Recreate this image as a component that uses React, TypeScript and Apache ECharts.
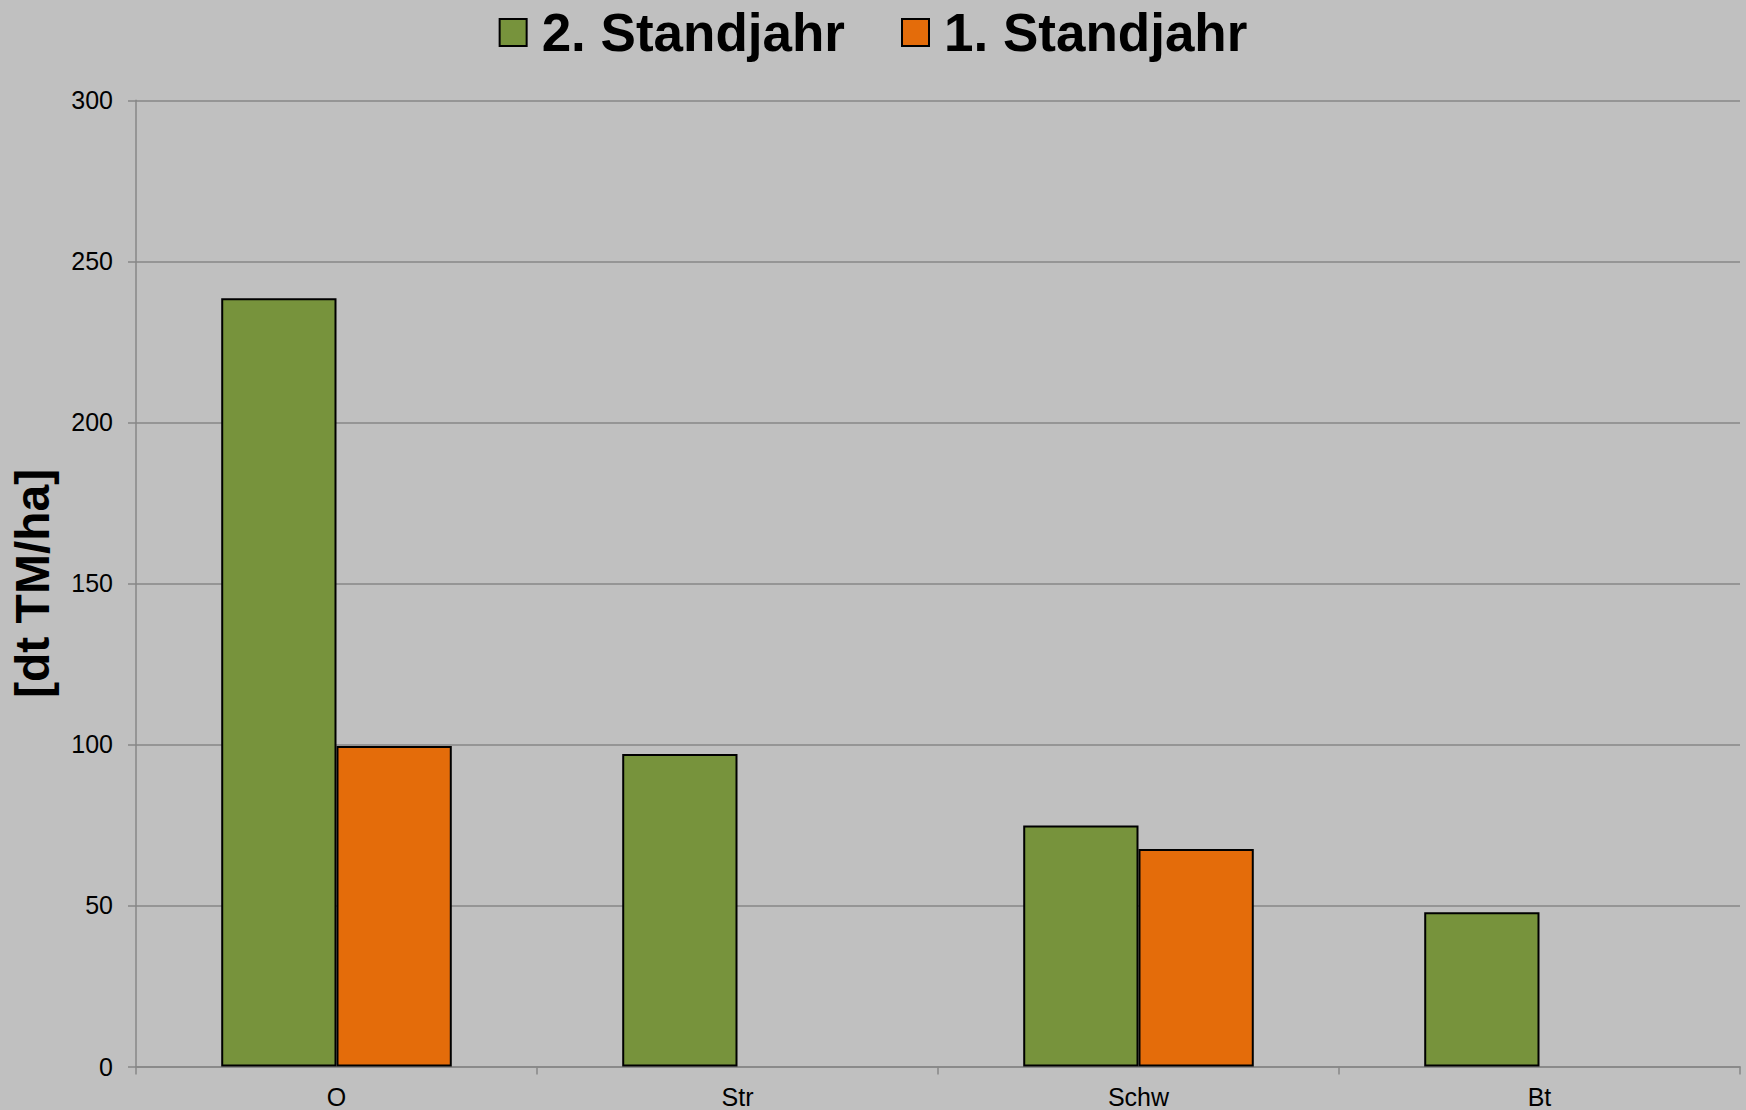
import React, { useEffect, useRef } from "react";
import * as echarts from "echarts";

const categories = ["O", "Str", "Schw", "Bt"];
const seriesNames = ["2. Standjahr", "1. Standjahr"];
const year2Values: (number | null)[] = [238.5, 97.0, 74.8, 47.9];
const year1Values: (number | null)[] = [99.5, null, 67.5, null];
const yTicks = { min: 0, max: 300, interval: 50 };
const axisTitle = "[dt TM/ha]";

const FONT = '"Liberation Sans", Arial, sans-serif';
const GREEN = "#77933C";
const ORANGE = "#E46C0A";
const GRID = "#878787";

export default function App() {
  const ref = useRef<HTMLDivElement>(null);
  useEffect(() => {
    document.body.style.margin = "0";
    const chart = echarts.init(ref.current!, null, { renderer: "svg" });
    chart.setOption({
      animation: false,
      backgroundColor: "#C0C0C0",
      textStyle: { fontFamily: FONT },
      legend: {
        data: seriesNames,
        left: "center",
        top: 6,
        padding: 0,
        itemWidth: 27,
        itemHeight: 27,
        itemGap: 56,
        icon: "rect",
        textStyle: {
          fontSize: 53,
          fontWeight: "bold",
          color: "#000",
          fontFamily: FONT,
          padding: [0, 0, 0, 10],
        },
      },
      grid: { left: 134.6, right: 6, top: 100.3, bottom: 43.5, containLabel: false },
      xAxis: {
        type: "category",
        data: categories,
        axisLine: { show: true, lineStyle: { color: GRID, width: 1.5 } },
        axisTick: { show: true, length: 8, lineStyle: { color: GRID, width: 1.5 } },
        axisLabel: { fontSize: 25, color: "#000", margin: 18, fontFamily: FONT },
        splitLine: { show: false },
      },
      yAxis: {
        type: "value",
        min: yTicks.min,
        max: yTicks.max,
        interval: yTicks.interval,
        name: axisTitle,
        nameLocation: "middle",
        nameRotate: 90,
        nameGap: 80,
        nameTextStyle: { fontSize: 48, fontWeight: "bold", color: "#000", fontFamily: FONT },
        axisLine: { show: true, lineStyle: { color: GRID, width: 1.5 } },
        axisTick: { show: true, length: 8, lineStyle: { color: GRID, width: 1.5 } },
        axisLabel: { fontSize: 25, color: "#000", margin: 23, fontFamily: FONT },
        splitLine: { show: true, lineStyle: { color: GRID, width: 1.5 } },
      },
      series: [
        {
          name: seriesNames[0],
          type: "bar",
          data: year2Values,
          barGap: "0%",
          barCategoryGap: "42.5%",
          itemStyle: { color: GREEN, borderColor: "#000", borderWidth: 2 },
        },
        {
          name: seriesNames[1],
          type: "bar",
          data: year1Values,
          barGap: "0%",
          barCategoryGap: "42.5%",
          itemStyle: { color: ORANGE, borderColor: "#000", borderWidth: 2 },
        },
      ],
    });
    return () => chart.dispose();
  }, []);
  return <div ref={ref} style={{ width: 1746, height: 1110 }} />;
}
